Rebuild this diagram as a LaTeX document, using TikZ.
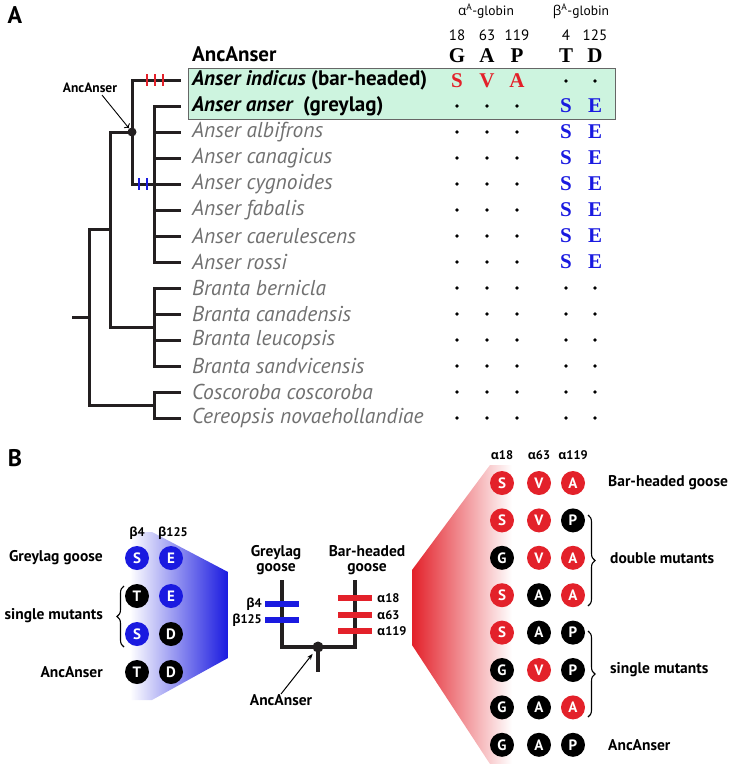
\documentclass[tikz,border=0pt]{standalone}
\usepackage{fontspec}
\setmainfont{PT Sans}
\newfontfamily\grk{Open Sans}
\newfontfamily\tms{Liberation Serif}
\usetikzlibrary{positioning,decorations.pathreplacing,arrows.meta}

\definecolor{barred}{HTML}{E3212A}
\definecolor{greyblue}{HTML}{1A1AE0}
\definecolor{boxgreen}{HTML}{CDF4DF}
\definecolor{taxgrey}{HTML}{707070}
\definecolor{treeblack}{HTML}{231F20}

\newcommand{\fsz}[1]{\fontsize{#1}{#1}\selectfont}
\newcommand{\al}{{\grk α}}
\newcommand{\be}{{\grk β}}

\tikzset{
  taxon/.style={anchor=west,inner sep=0,font=\fsz{21.5}\itshape,text=taxgrey},
  focal/.style={anchor=west,inner sep=0,font=\fsz{21}\bfseries,text=black},
  resid/.style={inner sep=0,font=\tms\bfseries\fsz{21}},
  nochange/.style={circle,fill=black,inner sep=0,minimum size=3.6pt},
  colhead/.style={inner sep=0,font=\fsz{15}},
  smalllab/.style={inner sep=0,font=\bfseries\fsz{12.5}},
  biglab/.style={inner sep=0,font=\bfseries\fsz{15.5}},
  branch/.style={line width=3pt,draw=treeblack},
  thickbranch/.style={line width=4.5pt,draw=treeblack},
  site/.style={circle,inner sep=0,minimum size=24pt,text=white,font=\bfseries\fsz{15}},
  siteanc/.style={site,fill=black},
  sitebh/.style={site,fill=barred},
  sitegl/.style={site,fill=greyblue},
  grp/.style={decorate,decoration={brace,amplitude=7pt},line width=1.1pt},
}

\begin{document}
\begin{tikzpicture}[x=1pt,y=-1pt]
  \useasboundingbox (0,0) rectangle (737,764);

  % panel A
  \node[inner sep=0,font=\bfseries\fsz{24}] (pA) at (15,15) {A};
  \draw[fill=boxgreen,draw=gray!80!black] (188,68) rectangle (615,119);

  \node[focal] (head) at (192,54) {AncAnser};
  \node[focal] (s1) at (192,80) {\itshape Anser indicus \upshape (bar-headed)};
  \node[focal] (s2) at (192,106) {\itshape Anser anser \ \upshape (greylag)};
  \node[taxon] (s3) at (192,132) {Anser albifrons};
  \node[taxon] (s4) at (192,158) {Anser canagicus};
  \node[taxon] (s5) at (192,184) {Anser cygnoides};
  \node[taxon] (s6) at (192,210) {Anser fabalis};
  \node[taxon] (s7) at (192,236) {Anser caerulescens};
  \node[taxon] (s8) at (192,262) {Anser rossi};
  \node[taxon] (s9) at (192,288) {Branta bernicla};
  \node[taxon] (s10) at (192,314) {Branta canadensis};
  \node[taxon] (s11) at (192,340) {Branta leucopsis};
  \node[taxon] (s12) at (192,366) {Branta sandvicensis};
  \node[taxon] (s13) at (192,392) {Coscoroba coscoroba};
  \node[taxon] (s14) at (192,418) {Cereopsis novaehollandiae};

  \foreach \i in {1,...,14}
    \coordinate (t\i) at ([xshift=-11pt]s\i.west);

  % tree
  \coordinate (root0) at (72,317);
  \coordinate (root) at (89,317);
  \coordinate (nAB) at (110,229);
  \node[circle,fill=treeblack,inner sep=0,minimum size=9pt] (ancA) at (132,132) {};
  \coordinate (nAn) at (154,184);
  \coordinate (nBr) at (154,327);
  \coordinate (nCC) at (154,405);

  \draw[branch] (root0) -- (root);
  \draw[branch] (root) |- (nAB);
  \draw[branch] (root) |- (nCC);
  \draw[branch] (nAB) |- (ancA.center);
  \draw[branch] (nAB) |- (nBr);
  \draw[branch] (ancA.center) |- (t1);
  \draw[branch] (ancA.center) |- (nAn);
  \foreach \i in {2,...,8} \draw[branch] (nAn) |- (t\i);
  \foreach \i in {9,...,12} \draw[branch] (nBr) |- (t\i);
  \foreach \i in {13,14} \draw[branch] (nCC) |- (t\i);

  \foreach \x in {147,155,163} \draw[barred,line width=2.4pt] (\x,74) -- (\x,86);
  \foreach \x in {139,147} \draw[greyblue,line width=2.4pt] (\x,178) -- (\x,190);

  \node[smalllab,font=\bfseries\fsz{13.5}] (ancAlab) at (90,88) {AncAnser};
  \draw[->,line width=0.9pt,shorten >=5pt] ([xshift=12pt,yshift=-2pt]ancAlab.south) -- (ancA.center);

  % alignment columns
  \node[colhead,font=\fsz{13.5}] (ahead) at (486,11) {\al\textsuperscript{A}-globin};
  \node[colhead,font=\fsz{13.5}] (bhead) at (581,11) {\be\textsuperscript{A}-globin};
  \foreach \x/\n/\aa [count=\c] in {457/18/G,487/63/A,517/119/P,566/4/T,595/125/D} {
    \node[colhead] (pos\c) at (\x,35) {\n};
    \node[resid] (anc\c) at (\x,56) {\aa};
  }
  \node[resid,text=barred] (r1c1) at (457,81) {S};
  \node[resid,text=barred] (r1c2) at (487,81) {V};
  \node[resid,text=barred] (r1c3) at (517,81) {A};
  \node[nochange] (r1c4) at (566,81) {};
  \node[nochange] (r1c5) at (595,81) {};
  \foreach \y [count=\r from 2] in {106,132,158,184,210,236,262} {
    \node[nochange] (r\r c1) at (457,\y) {};
    \node[nochange] (r\r c2) at (487,\y) {};
    \node[nochange] (r\r c3) at (517,\y) {};
    \node[resid,text=greyblue] (r\r c4) at (566,\y) {S};
    \node[resid,text=greyblue] (r\r c5) at (595,\y) {E};
  }
  \foreach \y [count=\r from 9] in {288,314,340,366,392,418}
    \foreach \x [count=\c] in {457,487,517,566,595}
      \node[nochange] (r\r c\c) at (\x,\y) {};

  % panel B
  \node[inner sep=0,font=\bfseries\fsz{24}] (pB) at (15,458) {B};

  \shade[left color=white,right color=greyblue] (130,532) -- (152,532) -- (228,572)
    -- (228,658) -- (152,700) -- (130,700) -- cycle;
  \shade[left color=barred,right color=white] (412,570) -- (490,465) -- (512,465)
    -- (512,764) -- (490,764) -- (412,645) -- cycle;

  % greylag side
  \node[smalllab] (hb4) at (137,533) {\be4};
  \node[smalllab] (hb125) at (173,533) {\be125};
  \foreach \sa/\la/\sb/\lb [count=\r] in {sitegl/S/sitegl/E,siteanc/T/sitegl/E,sitegl/S/siteanc/D,siteanc/T/siteanc/D} {
    \node[\sa] (gl\r a) at (137,{520+38*\r}) {\la};
    \node[\sb] (gl\r b) at (171,{520+38*\r}) {\lb};
  }
  \node[biglab,anchor=east] (gllab) at (103,558) {Greylag goose};
  \node[biglab,anchor=east] (glsingle) at (103,616) {single mutants};
  \node[biglab,anchor=east] (glanc) at (103,672) {AncAnser};
  \draw[grp] (124,647) -- (124,586);

  % small tree
  \coordinate (gltop) at (282,580);
  \coordinate (bhtop) at (355,580);
  \coordinate (stem) at (318,672);
  \node[circle,fill=treeblack,inner sep=0,minimum size=11pt] (ancB) at (318,647) {};
  \draw[thickbranch] (gltop) |- (ancB.center) -| (bhtop);
  \draw[thickbranch] (ancB.center) -- (stem);
  \foreach \y in {604,620} \draw[greyblue,line width=6pt] (265,\y) -- (299,\y);
  \foreach \y in {598,615,631} \draw[barred,line width=6pt] (338,\y) -- (372,\y);

  \node[biglab,align=center] (gltip) at (276,560) {Greylag\\goose};
  \node[biglab,align=center] (bhtip) at (367,560) {Bar-headed\\goose};
  \node[smalllab,anchor=east] (mb4) at (262,604) {\be4};
  \node[smalllab,anchor=east] (mb125) at (262,620) {\be125};
  \node[smalllab,anchor=west] (ma18) at (377,598) {\al18};
  \node[smalllab,anchor=west] (ma63) at (377,615) {\al63};
  \node[smalllab,anchor=west] (ma119) at (377,631) {\al119};
  \node[biglab,anchor=north] (ancBlab) at (281,694) {AncAnser};
  \draw[-{Stealth[length=6pt]},line width=1pt,shorten >=3pt] (ancBlab.north) -- (ancB);

  % bar-headed side
  \node[smalllab] (ha18) at (502,455) {\al18};
  \node[smalllab] (ha63) at (539,455) {\al63};
  \node[smalllab] (ha119) at (573,455) {\al119};
  \foreach \sa/\la/\sb/\lb/\sc/\lc [count=\r] in {sitebh/S/sitebh/V/sitebh/A,
      sitebh/S/sitebh/V/siteanc/P, siteanc/G/sitebh/V/sitebh/A,
      sitebh/S/siteanc/A/sitebh/A, sitebh/S/siteanc/A/siteanc/P,
      siteanc/G/sitebh/V/siteanc/P, siteanc/G/siteanc/A/sitebh/A,
      siteanc/G/siteanc/A/siteanc/P} {
    \node[\sa] (bh\r a) at (502,{445.6+37.4*\r}) {\la};
    \node[\sb] (bh\r b) at (539,{445.6+37.4*\r}) {\lb};
    \node[\sc] (bh\r c) at (573,{445.6+37.4*\r}) {\lc};
  }
  \node[biglab,anchor=west] (bhlab) at (608,483) {Bar-headed goose};
  \node[biglab,anchor=west] (bhdouble) at (610,558) {double mutants};
  \node[biglab,anchor=west] (bhsingle) at (610,670) {single mutants};
  \node[biglab,anchor=west] (bhanc) at (608,745) {AncAnser};
  \draw[grp] (588,515) -- (588,606);
  \draw[grp] (588,631) -- (588,717);
\end{tikzpicture}
\end{document}
